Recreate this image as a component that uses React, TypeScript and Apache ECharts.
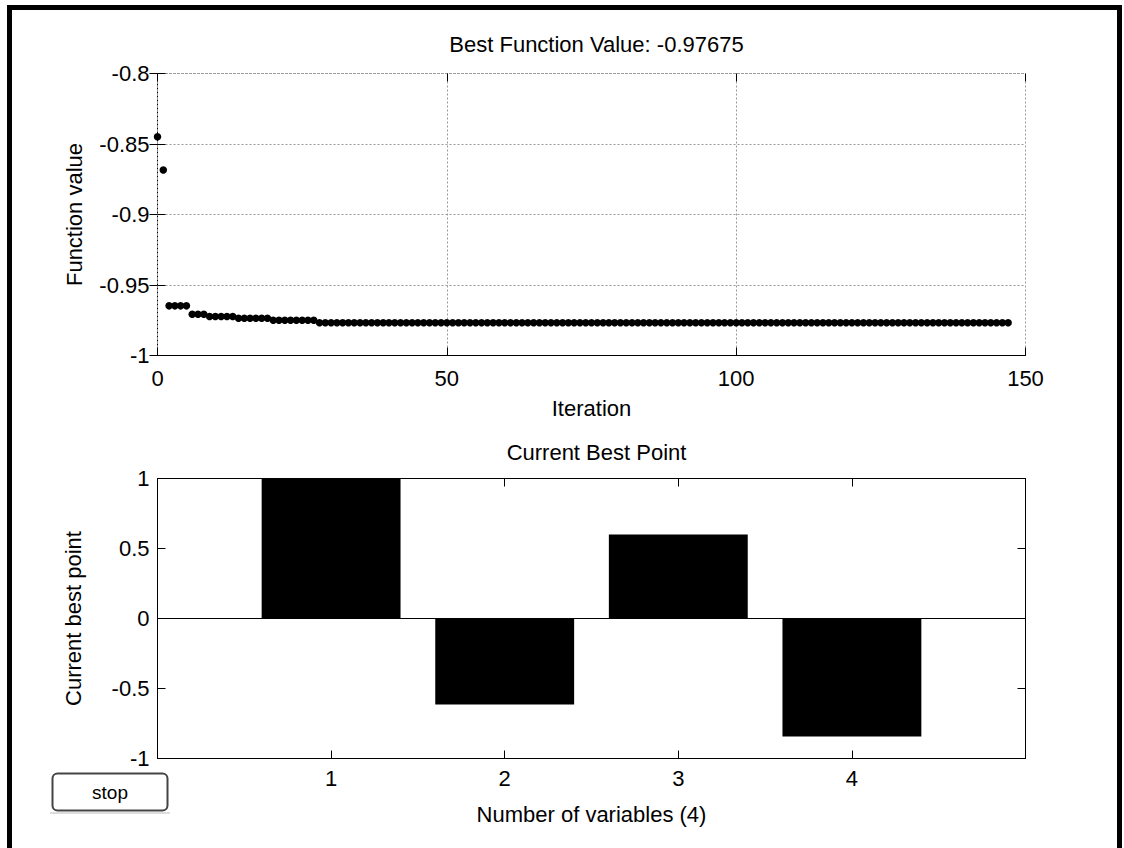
import React, { useEffect, useRef } from "react";
import * as echarts from "echarts";

const iterations: number[] = [
  0, 1, 2, 3, 4, 5, 6, 7, 8, 9, 10, 11, 12, 13, 14, 15, 16, 17, 18, 19,
  20, 21, 22, 23, 24, 25, 26, 27, 28, 29, 30, 31, 32, 33, 34, 35, 36, 37, 38, 39,
  40, 41, 42, 43, 44, 45, 46, 47, 48, 49, 50, 51, 52, 53, 54, 55, 56, 57, 58, 59,
  60, 61, 62, 63, 64, 65, 66, 67, 68, 69, 70, 71, 72, 73, 74, 75, 76, 77, 78, 79,
  80, 81, 82, 83, 84, 85, 86, 87, 88, 89, 90, 91, 92, 93, 94, 95, 96, 97, 98, 99,
  100, 101, 102, 103, 104, 105, 106, 107, 108, 109, 110, 111, 112, 113, 114, 115, 116, 117, 118, 119,
  120, 121, 122, 123, 124, 125, 126, 127, 128, 129, 130, 131, 132, 133, 134, 135, 136, 137, 138, 139,
  140, 141, 142, 143, 144, 145, 146, 147,
];

const functionValues: number[] = [
  -0.8448, -0.8685, -0.9648, -0.9648, -0.9648, -0.9648, -0.9708, -0.9708, -0.9708, -0.9724,
  -0.9724, -0.9724, -0.9724, -0.9724, -0.9736, -0.9736, -0.9736, -0.9736, -0.9736, -0.9736,
  -0.975, -0.975, -0.975, -0.975, -0.975, -0.975, -0.975, -0.975, -0.97675, -0.97675,
  -0.97675, -0.97675, -0.97675, -0.97675, -0.97675, -0.97675, -0.97675, -0.97675, -0.97675, -0.97675,
  -0.97675, -0.97675, -0.97675, -0.97675, -0.97675, -0.97675, -0.97675, -0.97675, -0.97675, -0.97675,
  -0.97675, -0.97675, -0.97675, -0.97675, -0.97675, -0.97675, -0.97675, -0.97675, -0.97675, -0.97675,
  -0.97675, -0.97675, -0.97675, -0.97675, -0.97675, -0.97675, -0.97675, -0.97675, -0.97675, -0.97675,
  -0.97675, -0.97675, -0.97675, -0.97675, -0.97675, -0.97675, -0.97675, -0.97675, -0.97675, -0.97675,
  -0.97675, -0.97675, -0.97675, -0.97675, -0.97675, -0.97675, -0.97675, -0.97675, -0.97675, -0.97675,
  -0.97675, -0.97675, -0.97675, -0.97675, -0.97675, -0.97675, -0.97675, -0.97675, -0.97675, -0.97675,
  -0.97675, -0.97675, -0.97675, -0.97675, -0.97675, -0.97675, -0.97675, -0.97675, -0.97675, -0.97675,
  -0.97675, -0.97675, -0.97675, -0.97675, -0.97675, -0.97675, -0.97675, -0.97675, -0.97675, -0.97675,
  -0.97675, -0.97675, -0.97675, -0.97675, -0.97675, -0.97675, -0.97675, -0.97675, -0.97675, -0.97675,
  -0.97675, -0.97675, -0.97675, -0.97675, -0.97675, -0.97675, -0.97675, -0.97675, -0.97675, -0.97675,
  -0.97675, -0.97675, -0.97675, -0.97675, -0.97675, -0.97675, -0.97675, -0.97675,
];

const variableIndex: number[] = [1, 2, 3, 4];
const bestPoint: number[] = [1, -0.615, 0.6, -0.843];

const topTitle = "Best Function Value: -0.97675";
const bottomTitle = "Current Best Point";
const topXName = "Iteration";
const topYName = "Function value";
const bottomXName = "Number of variables (4)";
const bottomYName = "Current best point";
const topYTicks: string[] = ["-1", "-0.95", "-0.9", "-0.85", "-0.8"];
const bottomYTicks: string[] = ["-1", "-0.5", "0", "0.5", "1"];

const FONT = "Liberation Sans, Arial, sans-serif";
const FS = 22;

export default function App() {
  const ref = useRef<HTMLDivElement>(null);

  useEffect(() => {
    if (!ref.current) return;
    const chart = echarts.init(ref.current, undefined, { renderer: "svg" });

    const gridLeft = 157.5;
    const gridRight = 98.5;
    const textStyle = { color: "#000", fontFamily: FONT, fontSize: FS };
    const dotted = { color: "#999", width: 1, type: [2, 2] as any };
    const tick = { show: true, inside: true, length: 8, lineStyle: { color: "#000", width: 1 } };

    const topYLabel = (v: number) => {
      const idx = Math.round((v + 1) / 0.05);
      return topYTicks[idx] ?? "";
    };
    const bottomYLabel = (v: number) => {
      const idx = Math.round((v + 1) / 0.5);
      return bottomYTicks[idx] ?? "";
    };

    const option: any = {
      animation: false,
      backgroundColor: "#fff",
      textStyle: { fontFamily: FONT },
      title: [
        {
          text: topTitle,
          left: 591.5,
          top: 28,
          textAlign: "center",
          textStyle: { ...textStyle, fontWeight: "normal" },
        },
        {
          text: bottomTitle,
          left: 591.5,
          top: 436,
          textAlign: "center",
          textStyle: { ...textStyle, fontWeight: "normal" },
        },
      ],
      grid: [
        { left: gridLeft, right: gridRight, top: 73.5, height: 282, containLabel: false },
        { left: gridLeft, right: gridRight, top: 478.5, height: 280, containLabel: false },
      ],
      xAxis: [
        {
          type: "value",
          gridIndex: 0,
          min: 0,
          max: 150,
          interval: 50,
          position: "bottom",
          axisLine: { show: true, lineStyle: { color: "#000", width: 1 } },
          axisTick: tick,
          axisLabel: { ...textStyle, margin: 12 },
          splitLine: { show: true, lineStyle: dotted },
          name: topXName,
          nameLocation: "middle",
          nameGap: 42,
          nameTextStyle: textStyle,
        },
        {
          type: "value",
          gridIndex: 0,
          min: 0,
          max: 150,
          interval: 50,
          position: "top",
          axisLine: { show: true, lineStyle: dotted },
          axisTick: tick,
          axisLabel: { show: false },
          splitLine: { show: false },
        },
        {
          type: "value",
          gridIndex: 1,
          min: 0,
          max: 5,
          interval: 1,
          position: "bottom",
          axisLine: { show: true, onZero: false, lineStyle: { color: "#000", width: 1 } },
          axisTick: tick,
          axisLabel: {
            ...textStyle,
            margin: 9,
            formatter: (v: number) => (variableIndex.includes(v) ? String(v) : ""),
          },
          splitLine: { show: false },
          name: bottomXName,
          nameLocation: "middle",
          nameGap: 45,
          nameTextStyle: textStyle,
        },
        {
          type: "value",
          gridIndex: 1,
          min: 0,
          max: 5,
          interval: 1,
          position: "top",
          axisLine: { show: true, onZero: false, lineStyle: { color: "#000", width: 1 } },
          axisTick: tick,
          axisLabel: { show: false },
          splitLine: { show: false },
        },
      ],
      yAxis: [
        {
          type: "value",
          gridIndex: 0,
          min: -1,
          max: -0.8,
          interval: 0.05,
          position: "left",
          axisLine: { show: true, lineStyle: { color: "#000", width: 1 } },
          axisTick: tick,
          axisLabel: { ...textStyle, margin: 8, formatter: topYLabel },
          splitLine: { show: true, lineStyle: dotted },
          name: topYName,
          nameLocation: "middle",
          nameGap: 72,
          nameTextStyle: textStyle,
        },
        {
          type: "value",
          gridIndex: 0,
          min: -1,
          max: -0.8,
          interval: 0.05,
          position: "right",
          axisLine: { show: true, lineStyle: dotted },
          axisTick: tick,
          axisLabel: { show: false },
          splitLine: { show: false },
        },
        {
          type: "value",
          gridIndex: 1,
          min: -1,
          max: 1,
          interval: 0.5,
          position: "left",
          axisLine: { show: true, onZero: false, lineStyle: { color: "#000", width: 1 } },
          axisTick: tick,
          axisLabel: { ...textStyle, margin: 8, formatter: bottomYLabel },
          splitLine: { show: false },
          name: bottomYName,
          nameLocation: "middle",
          nameGap: 73,
          nameTextStyle: textStyle,
        },
        {
          type: "value",
          gridIndex: 1,
          min: -1,
          max: 1,
          interval: 0.5,
          position: "right",
          axisLine: { show: true, onZero: false, lineStyle: { color: "#000", width: 1 } },
          axisTick: tick,
          axisLabel: { show: false },
          splitLine: { show: false },
        },
      ],
      series: [
        {
          type: "scatter",
          xAxisIndex: 0,
          yAxisIndex: 0,
          symbol: "circle",
          symbolSize: 7.5,
          itemStyle: { color: "#000", opacity: 1 },
          data: iterations.map((it, i) => [it, functionValues[i]]),
          silent: true,
        },
        {
          type: "bar",
          xAxisIndex: 2,
          yAxisIndex: 2,
          barWidth: "80%",
          itemStyle: { color: "#000" },
          data: variableIndex.map((v, i) => [v, bestPoint[i]]),
          silent: true,
          markLine: {
            silent: true,
            symbol: "none",
            label: { show: false },
            lineStyle: { color: "#000", width: 1, type: "solid" },
            data: [{ yAxis: 0 }],
          },
        },
      ],
      graphic: [
        {
          type: "rect",
          shape: { x: 9.5, y: 7.5, width: 1110, height: 900 },
          style: { fill: "none", stroke: "#000", lineWidth: 5 },
          silent: true,
          z: 100,
        },
        {
          type: "line",
          shape: { x1: 50, y1: 813, x2: 170, y2: 813 },
          style: { stroke: "#bbb", lineWidth: 1 },
          silent: true,
        },
        {
          type: "rect",
          shape: { x: 52.5, y: 773.5, width: 115, height: 37, r: 5 },
          style: { fill: "#fff", stroke: "#444", lineWidth: 2 },
          silent: true,
        },
        {
          type: "text",
          x: 110,
          y: 792,
          style: {
            text: "stop",
            fontFamily: FONT,
            fontSize: 19,
            fill: "#000",
            align: "center",
            verticalAlign: "middle",
          },
          silent: true,
        },
      ],
    };

    chart.setOption(option);
    return () => chart.dispose();
  }, []);

  return (
    <div
      ref={ref}
      style={{ position: "fixed", left: 0, top: 0, width: 1124, height: 848, background: "#fff" }}
    />
  );
}
